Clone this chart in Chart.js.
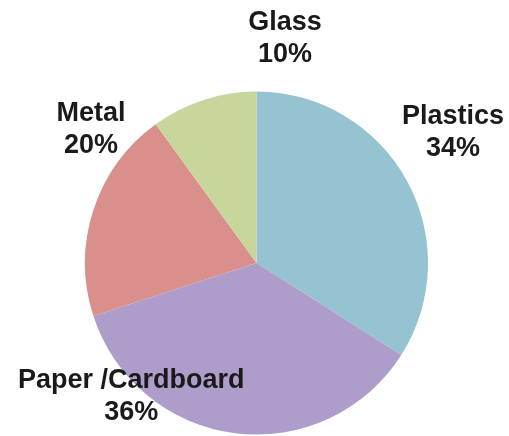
<!DOCTYPE html>
<html>
<head>
<meta charset="utf-8">
<script src="https://cdn.jsdelivr.net/npm/chart.js@4.4.1/dist/chart.umd.min.js"></script>
<style>
  html, body { margin: 0; padding: 0; background: #ffffff; }
  #wrap { width: 509px; height: 436px; position: relative; }
</style>
</head>
<body>
<div id="wrap"><canvas id="c" width="509" height="436"></canvas></div>
<script>
// Waste composition, share of total (%)
const categories = ['Plastics', 'Paper /Cardboard', 'Metal', 'Glass'];
const shares = [34, 36, 20, 10];
const sliceColors = ['#95c3d2', '#ae9ccb', '#d98f8b', '#c7d69b'];

// Label anchors (midpoint between the two baselines), relative to the
// pie centre in units of the radius
const labelOffsets = [
  [1.146, -0.717],
  [-0.730, 0.822],
  [-0.965, -0.735],
  [0.166, -1.265]
];

const sliceLabels = {
  id: 'sliceLabels',
  afterDatasetsDraw(chart) {
    const ctx = chart.ctx;
    const arc = chart.getDatasetMeta(0).data[0];
    const cx = arc.x, cy = arc.y, r = arc.outerRadius;
    ctx.save();
    ctx.fillStyle = '#1a1a1a';
    ctx.font = 'bold 27px "Liberation Sans", Arial, sans-serif';
    ctx.textAlign = 'center';
    ctx.textBaseline = 'alphabetic';
    categories.forEach((name, i) => {
      const x = cx + labelOffsets[i][0] * r;
      const y = cy + labelOffsets[i][1] * r;
      ctx.fillText(name, x, y - 16);
      ctx.fillText(shares[i] + '%', x, y + 16);
    });
    ctx.restore();
  }
};

new Chart(document.getElementById('c'), {
  type: 'pie',
  data: {
    labels: categories,
    datasets: [{
      data: shares,
      backgroundColor: sliceColors,
      borderWidth: 0
    }]
  },
  options: {
    responsive: false,
    animation: false,
    layout: { padding: { top: 91.5, bottom: 1.5, left: 4, right: 0 } },
    plugins: {
      legend: { display: false },
      tooltip: { enabled: false }
    }
  },
  plugins: [sliceLabels]
});
</script>
</body>
</html>
